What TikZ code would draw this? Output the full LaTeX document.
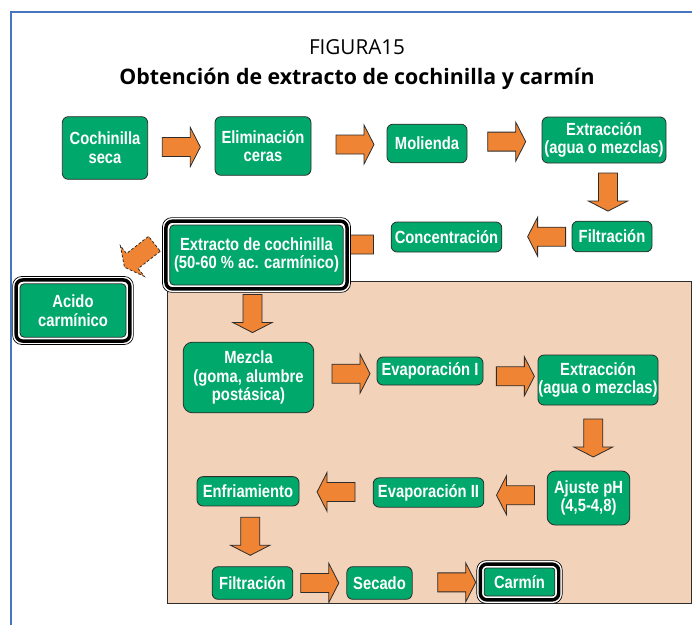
\documentclass[tikz,border=0pt]{standalone}
\usepackage{fontspec}
\setmainfont{Open Sans}
\newfontfamily\boxfont[FakeStretch=0.84]{Liberation Sans}
\usetikzlibrary{calc,backgrounds}
\definecolor{boxgreen}{RGB}{0,168,108}
\definecolor{arroworange}{RGB}{238,132,52}
\definecolor{panelpeach}{RGB}{242,210,185}
\definecolor{frameblue}{RGB}{72,118,190}
\definecolor{edgegray}{RGB}{45,45,45}
\tikzset{
  stepbox/.style={
    draw=edgegray,
    line width=0.6pt,
    fill=boxgreen,
    rounded corners=4.5pt,
    text=white,
    align=center,
    inner sep=0pt,
    font=\boxfont\bfseries\fontsize{13.2}{14}\selectfont
  },
  arrowbody/.style={
    fill=arroworange,
    draw=edgegray,
    line width=0.6pt,
    line join=miter
  },
  pics/blockarrow/.style={code={
    \draw[arrowbody] (-19,-9.5) -- (9,-9.5) -- (9,-19.5) -- (19,0)
      -- (9,19.5) -- (9,9.5) -- (-19,9.5) -- cycle;
  }}
}
\newcommand{\finalframe}[1]{%
  \draw[fill=white, line width=0.5pt, rounded corners=7pt]
    ([shift={(-7,-7)}]#1.north west) rectangle ([shift={(7,7)}]#1.south east);
  \draw[line width=2.6pt, rounded corners=5pt]
    ([shift={(-3.5,-3.5)}]#1.north west) rectangle ([shift={(3.5,3.5)}]#1.south east);
}

\begin{document}
\begin{tikzpicture}[x=0.75pt, y=-0.75pt]
  \useasboundingbox (0,0) rectangle (692,625);
  \draw[frameblue, line width=1.5pt] (11,625) -- (11,12) -- (692,12);

  \node[anchor=base, font=\fontsize{15.5}{18}\selectfont] (figura) at (357,54) {FIGURA15};
  \node[anchor=base, font=\bfseries\fontsize{16}{19}\selectfont] (titulo) at (357,84)
    {Obtención de extracto de cochinilla y carmín};

  % primera parte
  \node[stepbox, minimum width=64pt, minimum height=47pt] (cochinilla) at (105,148) {Cochinilla\\seca};
  \node[stepbox, minimum width=72pt, minimum height=44pt] (eliminacion) at (263,146) {Eliminación\\ceras};
  \node[stepbox, minimum width=60pt, minimum height=29pt] (molienda) at (427,143.5) {Molienda};
  \node[stepbox, minimum width=93pt, minimum height=34.5pt] (extraccionA) at (604,140) {Extracción\\(agua o mezclas)};
  \node[stepbox, minimum width=60pt, minimum height=23pt] (filtracionA) at (612,236.5) {Filtración};
  \node[stepbox, minimum width=83pt, minimum height=22.5pt] (concentracion) at (446.5,237) {Concentración};
  \node[stepbox, rounded corners=3pt, minimum width=130pt, minimum height=45pt] (extracto) at (256.5,255)
    {Extracto de cochinilla\\(50-60 \% ac. carmínico)};
  \node[stepbox, rounded corners=3pt, minimum width=79.5pt, minimum height=40pt] (acido) at (73,310.5) {Acido\\carmínico};

  % segunda parte
  \node[stepbox, rounded corners=7pt, minimum width=98pt, minimum height=53pt] (mezcla) at (248.5,377.5)
    {Mezcla\\(goma, alumbre\\postásica)};
  \node[stepbox, minimum width=79.5pt, minimum height=21pt] (evaporacionA) at (430,371) {Evaporación I};
  \node[stepbox, minimum width=90pt, minimum height=37.5pt] (extraccionB) at (598,380) {Extracción\\(agua o mezclas)};
  \node[stepbox, rounded corners=6pt, minimum width=62pt, minimum height=40.5pt] (ajuste) at (588.5,498) {Ajuste pH\\(4,5-4,8)};
  \node[stepbox, minimum width=83pt, minimum height=22pt] (evaporacionB) at (428.5,492.5) {Evaporación II};
  \node[stepbox, minimum width=76.5pt, minimum height=22pt] (enfriamiento) at (248,491.3) {Enfriamiento};
  \node[stepbox, minimum width=60.5pt, minimum height=24.5pt] (filtracionB) at (252.5,583) {Filtración};
  \node[stepbox, minimum width=49pt, minimum height=24.5pt] (secado) at (379.5,583) {Secado};
  \node[stepbox, rounded corners=2pt, minimum width=53pt, minimum height=21pt] (carmin) at (519.5,582) {Carmín};

  \foreach \from/\to/\pos/\ang in {
      cochinilla.east/eliminacion.west/0.5/0,
      eliminacion.east/molienda.west/0.58/0,
      molienda.east/extraccionA.west/0.53/0,
      extraccionA.south/filtracionA.north/0.5/-90,
      filtracionA.west/concentracion.east/0.36/180,
      extracto.south/mezcla.north/0.5/-90,
      mezcla.east/evaporacionA.west/0.59/0,
      evaporacionA.east/extraccionB.west/0.59/0,
      extraccionB.south/ajuste.north/0.5/-90,
      ajuste.west/evaporacionB.east/0.5/180,
      evaporacionB.west/enfriamiento.east/0.5/180,
      enfriamiento.south/filtracionB.north/0.5/-90,
      filtracionB.east/secado.west/0.5/0,
      secado.east/carmin.west/0.62/0}
    \pic[rotate=\ang] at ($(\from)!\pos!(\to)$) {blockarrow};
  \pic[rotate=218, dash pattern=on 2pt off 1.5pt] at ($(extracto.west)+(-30,0.5)$) {blockarrow};

  \begin{scope}[on background layer]
    \draw[fill=panelpeach, draw=edgegray, line width=0.7pt] (167,281) rectangle (691,603);
    \pic[rotate=180] at ($(extracto.east)+(11,-10.5)$) {blockarrow};
    \finalframe{extracto}
    \finalframe{acido}
    \finalframe{carmin}
  \end{scope}
\end{tikzpicture}
\end{document}
